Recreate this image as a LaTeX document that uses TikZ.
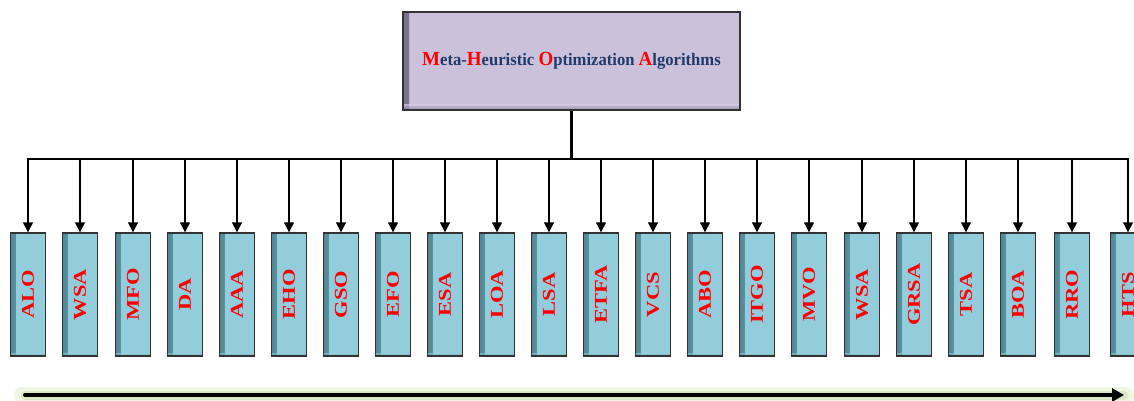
\documentclass[tikz,border=0pt]{standalone}
\usepackage{fontspec}
\setmainfont{Liberation Serif}
\usepackage{graphicx}
\usetikzlibrary{arrows.meta}
\definecolor{boxfill}{HTML}{93CDDC}
\definecolor{boxdark}{HTML}{4F8794}
\definecolor{topfill}{HTML}{CCC1DA}
\definecolor{topdark}{HTML}{7A708A}
\definecolor{edge}{HTML}{333333}
\definecolor{navy}{HTML}{1F3A6B}
\definecolor{glowA}{HTML}{F0F5E4}
\definecolor{glowB}{HTML}{DCE7C6}
\tikzset{
  algbox/.style={draw=edge, line width=1.1pt, fill=boxfill, minimum width=35pt, minimum height=123pt, inner sep=0pt,
    path picture={
      \shade[left color=boxdark, right color=boxfill] (path picture bounding box.north west) rectangle ([xshift=5pt]path picture bounding box.south west);
      \shade[bottom color=boxdark, top color=boxfill, opacity=0.6] (path picture bounding box.south west) rectangle ([yshift=3pt]path picture bounding box.south east);
    }},
  algtext/.style={text=red, font=\bfseries\fontsize{18}{18}\selectfont, rotate=90, inner sep=0pt},
  topbox/.style={draw=edge, line width=1.1pt, fill=topfill, minimum width=337pt, minimum height=98pt, inner sep=0pt,
    path picture={
      \shade[left color=topdark, right color=topfill] (path picture bounding box.north west) rectangle ([xshift=6pt]path picture bounding box.south west);
      \shade[bottom color=topdark, top color=topfill, opacity=0.7] (path picture bounding box.south west) rectangle ([yshift=5pt]path picture bounding box.south east);
    }},
  conn/.style={line width=2.2pt, black},
  downarrow/.style={conn, -{Triangle[length=10pt,width=9.5pt]}},
}
\newcommand{\ini}[1]{{\color{red}\fontsize{20}{20}\selectfont #1}}
\begin{document}
\begin{tikzpicture}[x=1pt,y=-1pt]
\useasboundingbox (0,0) rectangle (1134,401);
\clip (0,0) rectangle (1134,401);
\node[topbox] (top) at (571.5,61) {\scalebox{0.95}[1]{\bfseries\fontsize{17.5}{18}\selectfont\color{navy}\ini{M}eta-\ini{H}euristic \ini{O}ptimization \ini{A}lgorithms}};
\foreach \x/\t [count=\i] in {28/ALO,80/WSA,133/MFO,185/DA,237/AAA,289/EHO,341/GSO,393/EFO,445/ESA,497/LOA,549/LSA,601/ETFA,653/VCS,705/ABO,757/ITGO,809/MVO,862/WSA,914/GRSA,966/TSA,1018/BOA,1072/RRO,1128/HTS}{
  \node[algbox] (b\i) at (\x,294.5) {};
  \node[algtext] (t\i) at (b\i.center) {\scalebox{1.25}[1]{\t}};
}
\coordinate (bar) at (0,159);
\draw[conn] (top.south) -- (top.south |- bar);
\draw[conn, line cap=rect] (b1.north |- bar) -- (b22.north |- bar);
\foreach \i in {1,...,22}{
  \draw[downarrow] (b\i.north |- bar) -- (b\i.north);
}
\coordinate (ps) at (25,395);
\coordinate (pe) at (1124,395);
\draw[glowA, line width=16pt, line cap=round] ([xshift=-3pt]ps) -- ([xshift=2pt]pe);
\draw[glowB, line width=9pt, line cap=round] (ps) -- (pe);
\draw[line width=4pt, -{Triangle[length=12pt,width=13pt]}, line cap=round] (ps) -- (pe);
\end{tikzpicture}
\end{document}
